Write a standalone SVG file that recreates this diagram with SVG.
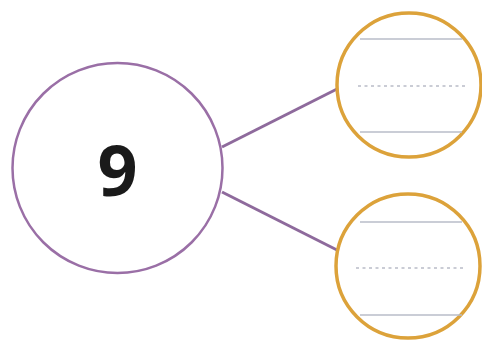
<svg xmlns="http://www.w3.org/2000/svg" width="482" height="340" viewBox="0 0 482 340">
<style>
.big{fill:#fff;stroke:#9a6fa6;stroke-width:2.5}
.small{fill:#fff;stroke:#dca23a;stroke-width:3.5}
.conn{stroke:#8e6a9c;stroke-width:3;fill:none}
.rule{stroke:#b9bcc8;stroke-width:1.6}
.dash{stroke:#b9bcc8;stroke-width:1.6;stroke-dasharray:3 3.5}
.num{font-family:"Noto Sans","Open Sans",sans-serif;font-weight:700;font-size:70px;fill:#1a1a1a;text-anchor:middle}
</style>
<rect width="482" height="340" fill="#fff"/>
<g id="connectors">
<line class="conn" x1="222" y1="147" x2="337" y2="89"/>
<line class="conn" x1="222" y1="192" x2="337" y2="250"/>
</g>
<g id="whole">
<circle class="big" cx="117.5" cy="168" r="105"/>
<text class="num" x="117.5" y="196">9</text>
</g>
<g id="part1">
<circle class="small" cx="409" cy="85" r="72"/>
<line class="rule" x1="360" y1="39" x2="462" y2="39"/>
<line class="dash" x1="358" y1="86" x2="466" y2="86"/>
<line class="rule" x1="360" y1="132" x2="462" y2="132"/>
</g>
<g id="part2">
<circle class="small" cx="408" cy="266" r="72"/>
<line class="rule" x1="360" y1="222" x2="462" y2="222"/>
<line class="dash" x1="356" y1="268" x2="466" y2="268"/>
<line class="rule" x1="360" y1="315" x2="462" y2="315"/>
</g>
</svg>
